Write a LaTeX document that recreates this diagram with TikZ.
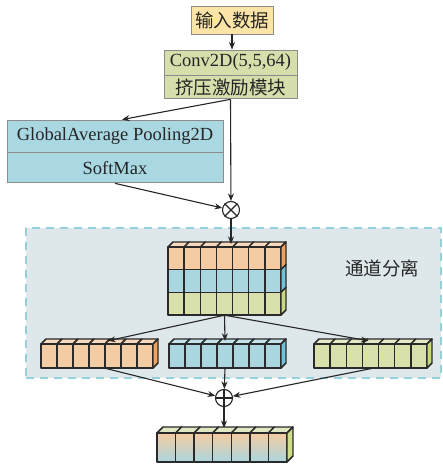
\documentclass[tikz,border=0pt]{standalone}
\usepackage{fontspec}
\setmainfont{Liberation Serif}
\newfontfamily\cjk{Noto Sans CJK SC}
\usetikzlibrary{arrows.meta,positioning}
\definecolor{inyellow}{HTML}{FCE4A6}
\definecolor{convgreen}{HTML}{D6DFAB}
\definecolor{gapblue}{HTML}{A9D8E3}
\definecolor{boxline}{HTML}{8C8C8C}
\definecolor{regionbg}{HTML}{DEE7EA}
\definecolor{dashblue}{HTML}{93D1DE}
\definecolor{celline}{HTML}{2A2A2A}
\definecolor{orfront}{HTML}{F5CBA2}
\definecolor{ortop}{HTML}{F8D9BB}
\definecolor{orside}{HTML}{F0A35C}
\definecolor{blfront}{HTML}{AAD6DF}
\definecolor{bltop}{HTML}{C2E3E9}
\definecolor{blside}{HTML}{6FC3D8}
\definecolor{grfront}{HTML}{D8E0AC}
\definecolor{grtop}{HTML}{E4EAC5}
\definecolor{grside}{HTML}{C8D87E}
\definecolor{outtopc}{HTML}{E3E6C2}
\definecolor{outside}{HTML}{CFDC88}
% one row of seven cells: x0, y0, cell width, cell height, fill options
\newcommand{\cubefront}[5]{%
  \foreach \i in {0,...,6}
    \draw[cell,#5] ({#1+\i*#3},#2) rectangle ++(#3,#4);}
% top faces of a row: x0, y0, cell width, fill
\newcommand{\cubetop}[4]{%
  \foreach \i in {0,...,6}
    \draw[cell,fill=#4] ({#1+\i*#3},#2) -- ++(\dep,-\dep) -- ++(#3,0) -- ++(-\dep,\dep) -- cycle;}
% side face of a row: x0, y0, cell width, cell height, fill
\newcommand{\cubeside}[5]{%
  \draw[cell,fill=#5] ({#1+7*#3},#2) -- ++(\dep,-\dep) -- ++(0,#4) -- ++(-\dep,\dep) -- cycle;}
\def\dep{5}

\begin{document}
\begin{tikzpicture}[x=1pt, y=-1pt,
    box/.style={rectangle, draw=boxline, line width=0.9pt, inner sep=0pt, text=black!85,
      font=\fontsize{18.5}{20}\selectfont},
    arr/.style={-{Stealth[length=7.5pt, width=6pt]}, line width=1.1pt, black!85},
    cell/.style={draw=celline, line width=1.45pt, line join=round},
    op/.style={circle, draw=black!85, line width=1.1pt, minimum size=17pt, inner sep=0pt},
    ghost/.style={rectangle, inner sep=0pt}
]
    \useasboundingbox (0,0) rectangle (442,466);

    % input and feature boxes
    \node[box, fill=inyellow, minimum width=82pt, minimum height=28pt] (input) at (232,20) {\cjk 输入数据};
    \node[box, fill=convgreen, minimum width=133pt, minimum height=25pt] (conv) at (230.5,62.5) {Conv2D(5,5,64)};
    \node[box, fill=convgreen, minimum width=133pt, minimum height=23pt, below=0pt of conv] (se) {\cjk 挤压激励模块};
    \node[box, fill=gapblue, minimum width=216pt, minimum height=32pt] (gap) at (115,136) {GlobalAverage Pooling2D};
    \node[box, fill=gapblue, minimum width=216pt, minimum height=30pt, below=0pt of gap] (soft) {SoftMax};
    \node[op] (mult) at (231,210) {};
    \draw[line width=1.1pt, black!85] (mult.north west) -- (mult.south east) (mult.north east) -- (mult.south west);

    % channel split region
    \node[rectangle, fill=regionbg, draw=dashblue, line width=1.3pt, dash pattern=on 8pt off 6pt,
      minimum width=415pt, minimum height=150pt] (split) at (233.5,303) {};
    \node[font=\cjk\fontsize{18.5}{20}\selectfont, text=black!85] (splitlabel) at (382,268) {通道分离};

    % stacked feature block
    \node[ghost, minimum width=113pt, minimum height=68pt] (big) at (224.5,281) {};
    \cubetop{168}{247}{16.14}{ortop}
    \cubefront{168}{247}{16.14}{22.67}{fill=orfront}
    \cubeside{168}{247}{16.14}{22.67}{orside}
    \cubefront{168}{269.67}{16.14}{22.67}{fill=blfront}
    \cubeside{168}{269.67}{16.14}{22.67}{blside}
    \cubefront{168}{292.33}{16.14}{22.67}{fill=grfront}
    \cubeside{168}{292.33}{16.14}{22.67}{grside}

    % separated channels
    \node[ghost, minimum width=112pt, minimum height=24pt] (orow) at (97,356) {};
    \node[ghost, minimum width=112pt, minimum height=24pt] (brow) at (225,356) {};
    \node[ghost, minimum width=113pt, minimum height=24pt] (grow) at (370.5,356) {};
    \cubetop{41}{344}{16}{ortop}
    \cubefront{41}{344}{16}{24}{fill=orfront}
    \cubeside{41}{344}{16}{24}{orside}
    \cubetop{169}{344}{16}{bltop}
    \cubefront{169}{344}{16}{24}{fill=blfront}
    \cubeside{169}{344}{16}{24}{blside}
    \cubetop{314}{344}{16.14}{grtop}
    \cubefront{314}{344}{16.14}{24}{fill=grfront}
    \cubeside{314}{344}{16.14}{24}{grside}

    % fused output
    \node[op] (add) at (224,398) {};
    \draw[line width=1.1pt, black!85] (add.north) -- (add.south) (add.west) -- (add.east);
    \node[ghost, minimum width=130pt, minimum height=29pt] (outrow) at (222,447.5) {};
    \def\dep{6}
    \cubetop{157}{433}{18.57}{outtopc}
    \cubefront{157}{433}{18.57}{29}{top color=orfront, bottom color=blfront, middle color=blfront!50!orfront}
    \cubeside{157}{433}{18.57}{29}{outside}

    % connectors
    \coordinate (bigtop) at (231,244);
    \coordinate (outtop) at (224,428);
    \draw[arr] (input.south) -- (input.south |- conv.north);
    \draw[arr] (se.south) -- (mult);
    \draw[arr] (se.south) -- ([xshift=7pt]gap.north);
    \draw[arr] (soft.south) -- (mult);
    \draw[arr] (mult) -- (bigtop);
    \draw[arr] (big.south) -- ([xshift=11pt, yshift=3pt]orow.north);
    \draw[arr] (big.south) -- ([yshift=3pt]brow.north);
    \draw[arr] (big.south) -- ([xshift=-2pt, yshift=3pt]grow.north);
    \draw[arr] ([xshift=8pt]orow.south) -- (add);
    \draw[arr] (brow.south) -- (add);
    \draw[arr] ([xshift=2.5pt]grow.south) -- (add);
    \draw[arr] (add) -- (outtop);
\end{tikzpicture}
\end{document}
